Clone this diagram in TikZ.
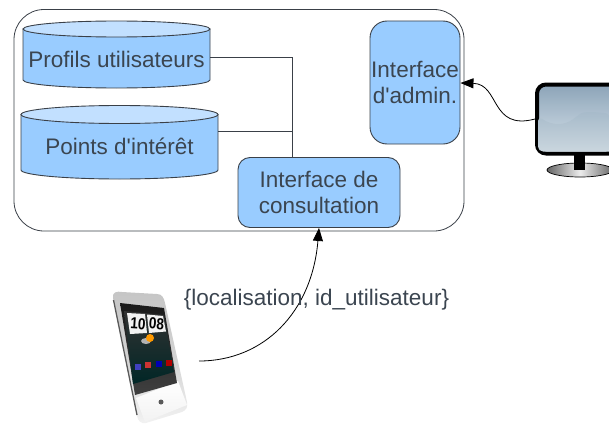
\documentclass[tikz,border=0pt]{standalone}
\usepackage{fontspec}
\newfontfamily\lsans{Liberation Sans}
\usetikzlibrary{shapes.geometric,arrows.meta,calc}
\definecolor{boxblue}{HTML}{99CCFF}
\definecolor{toplight}{HTML}{C2E0FF}
\definecolor{txt}{HTML}{3B4550}
\definecolor{edge}{HTML}{3A4048}
\definecolor{scrtop}{HTML}{8CA4B8}
\definecolor{scrmid}{HTML}{DCE6EE}
\definecolor{scrlow}{HTML}{A6BACA}
\definecolor{scrbot}{HTML}{CAD6DE}
\tikzset{
  boxstyle/.style={draw=edge,line width=0.9pt,fill=boxblue,text=txt,align=center,font=\lsans\fontsize{22.5}{26}\selectfont,inner sep=0pt},
  dbbody/.style={draw=edge,line width=0.9pt,fill=boxblue},
  dbtop/.style={draw=edge,line width=0.9pt,fill=toplight},
  wire/.style={draw=edge,line width=0.9pt},
  flow/.style={draw=black,line width=0.8pt,-{Triangle[length=13pt,width=10pt]}},
  lbl/.style={text=txt,font=\lsans\fontsize{22.5}{26}\selectfont,inner sep=0pt},
  anchorbox/.style={minimum width=#1,inner sep=0pt},
  clockdigits/.style={text=black,font=\lsans\bfseries\fontsize{16}{16}\selectfont,inner sep=0pt,rotate=-4,xscale=.85}
}
\begin{document}
\begin{tikzpicture}[x=1pt,y=-1pt]
\useasboundingbox (0,0) rectangle (609,428);
\clip (0,0) rectangle (609,428);
% outer container
\node[draw=edge,line width=0.8pt,rounded corners=30pt,minimum width=450pt,minimum height=221.5pt,inner sep=0pt] (sys) at (239,120.25) {};
% databases
\path[dbbody] (23,29) -- (23,80) arc[start angle=180,end angle=0,x radius=93.5,y radius=8] -- (210,29) -- cycle;
\draw[dbtop] (116.5,29) ellipse (93.5pt and 8pt);
\node[lbl,anchorbox=187pt] (profils) at (116.5,59.5) {Profils utilisateurs};
\path[dbbody] (21,114.5) -- (21,170) arc[start angle=180,end angle=0,x radius=98.5,y radius=9] -- (218,114.5) -- cycle;
\draw[dbtop] (119.5,114.5) ellipse (98.5pt and 9pt);
\node[lbl,anchorbox=197pt] (points) at (119.5,146.5) {Points d'intérêt};
% boxes
\node[boxstyle,rounded corners=12pt,minimum width=162pt,minimum height=70pt] (cons) at (319,192.5) {Interface de\\consultation};
\node[boxstyle,rounded corners=17pt,minimum width=90pt,minimum height=123pt] (admin) at (415,82.5) {Interface\\d'admin.};
% wiring
\coordinate (j1) at (292,57);
\coordinate (j2) at (292,131.5);
\draw[wire] (profils.east |- j1) -- (j1) -- (cons.north -| j1);
\draw[wire] (points.east |- j2) -- (j2);
% monitor
\node[draw=black,line width=0.7pt,ellipse,minimum width=66pt,minimum height=14pt,inner sep=0pt,left color=gray!80!black,right color=gray!80!black,middle color=white!85!gray] (base) at (580,170) {};
\fill[black] (574,150) rectangle (585,170);
\node[draw=black,line width=4pt,rounded corners=9pt,minimum width=92pt,minimum height=69pt,inner sep=0pt,top color=scrtop,bottom color=scrmid] (mon) at (583,119) {};
\shade[top color=scrlow,bottom color=scrbot,rounded corners=5pt] (538,116) .. controls (552,126) and (565,125) .. (576,117) .. controls (584,111) and (596,112) .. (611,114) -- (611,151.5) -- (538,151.5) -- cycle;
% phone
\coordinate (phone) at (199,361);
\shade[top color=gray!45,bottom color=white!90!gray,middle color=gray!35] (113,298) .. controls (112,292) and (117,291) .. (122,292) -- (157,294) .. controls (162,294) and (164,298) .. (165,303) -- (187,402) .. controls (188,408) and (186,410) .. (182,412) -- (146,423) .. controls (141,424) and (138,421) .. (137,416) -- cycle;
\draw[gray!70!black,line width=1.3pt] (113.5,300) -- (137,415);
\shade[top color=white,bottom color=gray!10] (136,398) -- (178,381) -- (187,405) -- (145,422) -- cycle;
\shade[top color=black!90,bottom color=black!75] (120,303) -- (164,308) -- (177,383) -- (135,395) -- cycle;
\shade[left color=brown!45!black,right color=teal!30!black,top color=black!80] (124,311) -- (164,315) -- (174,372) -- (133,384) -- cycle;
\fill[white!90!gray] (127,313) -- (145,314) -- (147,333) -- (130,334) -- cycle;
\fill[white!90!gray] (147,314.5) -- (163,316) -- (166,331.5) -- (149,333) -- cycle;
\node[clockdigits] (h) at (138,324) {10};
\node[clockdigits] (m) at (156.5,323.5) {08};
\fill[gray!60] (146,341) ellipse (5pt and 3pt);
\fill[orange!80!yellow] (150,338) circle (4pt);
\fill[blue!50!gray] (135,364) rectangle +(6,6);
\fill[red!60!gray] (145,362) rectangle +(6,6);
\fill[blue!70!black] (156,361) rectangle +(6,6);
\fill[red!70!black] (166,360) rectangle +(6,6);
\fill[gray!70!black] (161,402) circle (2.5pt);
% flows
\draw[flow] (mon.west) .. controls (490,131) and (500,84) .. (admin.east |- 0,83);
\draw[flow] (phone) .. controls (264,361) and (312,312) .. (cons.south);
\node[lbl] (msg) at (316.5,300) {\{localisation, id\_utilisateur\}};
\end{tikzpicture}
\end{document}
